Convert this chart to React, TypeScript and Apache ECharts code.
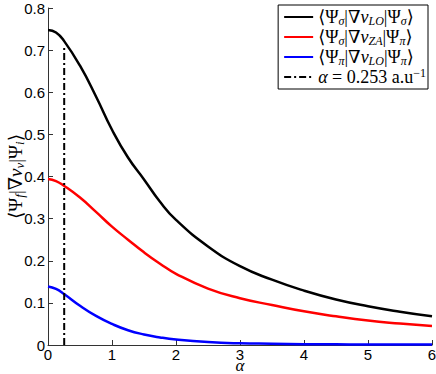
import React, { useEffect, useRef } from "react";
import * as echarts from "echarts";

const alphaPts = [0, 0.125, 0.25, 0.5, 0.75, 1, 1.25, 1.5, 1.75, 2, 2.5, 3, 3.5, 4, 4.5, 5, 5.5, 6];
const sigmaLO = [0.748, 0.742, 0.722, 0.663, 0.590, 0.511, 0.445, 0.393, 0.340, 0.297, 0.234, 0.187, 0.155, 0.129, 0.108, 0.092, 0.079, 0.068];
const sigmaZA = [0.394, 0.389, 0.378, 0.350, 0.316, 0.281, 0.250, 0.220, 0.193, 0.169, 0.134, 0.111, 0.095, 0.080, 0.068, 0.058, 0.051, 0.045];
const piLO = [0.139, 0.133, 0.121, 0.093, 0.069, 0.050, 0.035, 0.025, 0.018, 0.013, 0.007, 0.004, 0.003, 0.002, 0.0015, 0.001, 0.001, 0.001];
const alphaMark = 0.253;
const markTop = 0.71;
const xTicks = [0, 1, 2, 3, 4, 5, 6];
const yTicks = [0, 0.1, 0.2, 0.3, 0.4, 0.5, 0.6, 0.7, 0.8];

const names = ["s_lo", "s_za", "p_lo", "alpha"];
const legendRich: Record<string, string> = {
  s_lo: "{n|⟨Ψ}{s|σ}{n||∇}{i|v}{s|LO}{n||Ψ}{s|σ}{n|⟩}",
  s_za: "{n|⟨Ψ}{s|σ}{n||∇}{i|v}{s|ZA}{n||Ψ}{s|π}{n|⟩}",
  p_lo: "{n|⟨Ψ}{s|π}{n||∇}{i|v}{s|LO}{n||Ψ}{s|π}{n|⟩}",
  alpha: "{i|α}{n| = 0.253 a.u}{u|−1}",
};

const serif = "'Liberation Serif', 'DejaVu Serif', serif";
const rich = {
  n: { fontFamily: serif, fontSize: 18, lineHeight: 20, color: "#000" },
  i: { fontFamily: serif, fontSize: 18, lineHeight: 20, fontStyle: "italic", color: "#000" },
  s: { fontFamily: serif, fontSize: 12, lineHeight: 12, fontStyle: "italic", color: "#000", padding: [8, 0, 0, 0] },
  u: { fontFamily: serif, fontSize: 12, lineHeight: 12, color: "#000", padding: [0, 0, 8, 0] },
};
const nameRich = {
  n: { ...rich.n, fontSize: 19 },
  i: { ...rich.i, fontSize: 19 },
  s: { ...rich.s, fontSize: 13 },
};
const xNameRich = {
  i: { ...rich.i, fontSize: 17, lineHeight: 9 },
};

export default function App() {
  const ref = useRef<HTMLDivElement>(null);
  useEffect(() => {
    if (!ref.current) return;
    const chart = echarts.init(ref.current, undefined, { renderer: "svg" });
    const mk = (arr: number[]) => alphaPts.map((a, k) => [a, arr[k]]);
    const axisLine = { show: true, lineStyle: { color: "#333", width: 1 } };
    const labelStyle = { color: "#000", fontSize: 15, lineHeight: 11, fontFamily: "'Liberation Sans', Arial, sans-serif" };
    const line = (name: string, arr: number[], color: string) => ({
      name, type: "line", data: mk(arr), smooth: 0.5, symbol: "none",
      lineStyle: { color, width: 2.5 }, itemStyle: { color },
    });
    chart.setOption({
      animation: false,
      grid: { left: 48, right: 4, top: 8, bottom: 29, outerBoundsMode: "none", containLabel: false },
      legend: {
        orient: "vertical",
        right: 8,
        top: 5,
        data: names,
        borderColor: "#000",
        borderWidth: 1,
        padding: [2, 2, 2, 5],
        itemGap: 0,
        itemWidth: 29,
        itemHeight: 14,
        backgroundColor: "#fff",
        itemStyle: { opacity: 0 },
        formatter: (name: string) => legendRich[name],
        textStyle: { rich },
      },
      xAxis: {
        type: "value",
        min: 0,
        max: 6,
        interval: 1,
        name: "{i|α}",
        nameLocation: "middle",
        nameGap: 16,
        nameMoveOverlap: false,
        nameTextStyle: { rich: xNameRich },
        axisLine,
        axisTick: { show: true, inside: true, length: 5, lineStyle: { color: "#333" } },
        axisLabel: { ...labelStyle, margin: 4, formatter: (v: number) => (xTicks.includes(v) ? String(v) : "") },
        splitLine: { show: false },
      },
      yAxis: {
        type: "value",
        min: 0,
        max: 0.8,
        interval: 0.1,
        name: "{n|⟨Ψ}{s|f}{n||∇}{i|v}{s|ν}{n||Ψ}{s|i}{n|⟩}",
        nameLocation: "middle",
        nameGap: 23,
        nameRotate: 90,
        nameMoveOverlap: false,
        nameTextStyle: { rich: nameRich },
        axisLine,
        axisTick: { show: true, inside: true, length: 5, lineStyle: { color: "#333" } },
        axisLabel: {
          ...labelStyle,
          margin: 3,
          formatter: (v: number) => {
            const r = Math.round(v * 10) / 10;
            return yTicks.includes(r) ? (r === 0 ? "0" : r.toFixed(1)) : "";
          },
        },
        splitLine: { show: false },
      },
      series: [
        line("s_lo", sigmaLO, "#000000"),
        line("s_za", sigmaZA, "#ff0000"),
        line("p_lo", piLO, "#0000ff"),
        { name: "alpha", type: "line", data: [[alphaMark, 0], [alphaMark, markTop]], symbol: "none", lineStyle: { color: "#000", width: 2, type: [7, 3, 2, 3] }, itemStyle: { color: "#000" } },
      ],
    });
    return () => chart.dispose();
  }, []);
  return <div ref={ref} style={{ width: 436, height: 374, position: "absolute", left: 0, top: 0 }} />;
}
